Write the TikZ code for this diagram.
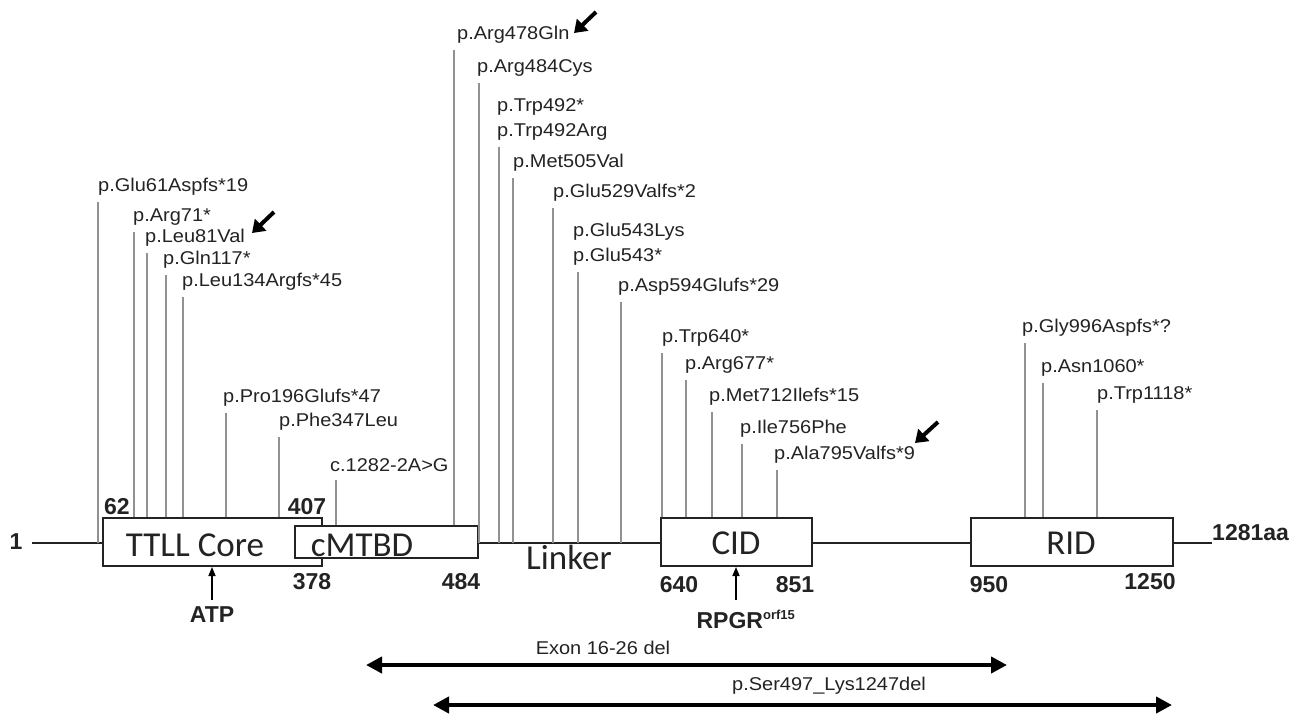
\documentclass[tikz,border=0pt]{standalone}
\usepackage{fontspec}
\setmainfont{Liberation Sans}
\newfontfamily\boxfont{Carlito}
\newfontfamily\labfont[FakeStretch=1.08]{Liberation Sans}
\usetikzlibrary{arrows.meta}
\definecolor{mutgray}{RGB}{145,145,145}
\definecolor{ink}{RGB}{35,35,35}
\newcommand\mutlab[6]{%
  \node[lab] (#1) at (#2,#3) {#6};
  \coordinate (#1t) at (#4,#3+15);
  \draw[mut] (#1t) -- (#1t |- #5);
}
\begin{document}
\begin{tikzpicture}[x=1pt,y=-1pt,
  dom/.style={draw=ink,line width=2pt,fill=white,inner sep=0pt},
  domtext/.style={font=\boxfont\fontsize{35}{38}\selectfont,text=ink,inner sep=0pt},
  lab/.style={font=\labfont\fontsize{18.5}{20}\selectfont,text=ink,anchor=west,inner sep=0pt},
  num/.style={font=\bfseries\fontsize{23}{25}\selectfont,text=ink,inner sep=0pt},
  mut/.style={draw=mutgray,line width=1.6pt},
  backbone/.style={draw=ink,line width=2pt},
  pointer/.style={draw=black,line width=4pt,-{Triangle[length=12pt,width=16pt]}},
  site/.style={draw=black,line width=1.5pt,-{Triangle[length=9pt,width=7pt]}},
  span/.style={draw=black,line width=4pt,{Triangle[length=16pt,width=16pt]}-{Triangle[length=16pt,width=16pt]}},
  ]
\useasboundingbox[fill=white] (0,0) rectangle (1299,713);

% backbone
\coordinate (bbL) at (32,543);
\coordinate (bbR) at (1212,543);
\draw[backbone] (bbL) -- (bbR);

% domains
\node[dom,minimum width=219pt,minimum height=48pt] (tt) at (212.5,542) {};
\node[dom,minimum width=183pt,minimum height=32pt] (cm) at (386.5,542) {};
\node[dom,minimum width=151pt,minimum height=48pt] (cid) at (736.5,542) {};
\node[dom,minimum width=202pt,minimum height=48pt] (rid) at (1072,542) {};
\node[domtext] (ttT) at (195,545) {TTLL Core};
\node[domtext] (cmT) at (362,545) {cMTBD};
\node[domtext] (cidT) at (736,543) {CID};
\node[domtext] (ridT) at (1071,543) {RID};
\node[domtext] (linkT) at (569,557) {Linker};

% residue numbers
\node[num] (n1) at (16,542) {1};
\node[num] (n62) at (117,507) {62};
\node[num] (n407) at (307,507) {407};
\node[num] (n378) at (312,582) {378};
\node[num] (n484) at (461,582) {484};
\node[num] (n640) at (679,585) {640};
\node[num] (n851) at (795,585) {851};
\node[num] (n950) at (989,585) {950};
\node[num] (n1250) at (1150,582) {1250};
\node[num,anchor=west] (n1281) at (1212,533) {1281aa};

% mutations
\mutlab{m1}{98}{187}{98}{bbL}{p.Glu61Aspfs*19}
\mutlab{m2}{133}{217}{134}{tt.north}{p.Arg71*}
\mutlab{m3}{145}{238}{147}{tt.north}{p.Leu81Val}
\mutlab{m4}{163}{260}{166}{tt.north}{p.Gln117*}
\mutlab{m5}{182}{282}{183}{tt.north}{p.Leu134Argfs*45}
\mutlab{m6}{223}{398}{226}{tt.north}{p.Pro196Glufs*47}
\mutlab{m7}{279}{422}{279}{tt.north}{p.Phe347Leu}
\mutlab{m8}{330}{465}{336}{cm.north}{c.1282-2A>G}
\mutlab{m9}{457}{35}{454}{cm.north}{p.Arg478Gln}
\mutlab{m10}{477}{68}{479}{bbL}{p.Arg484Cys}
\node[lab] (m11a) at (497,107) {p.Trp492*};
\mutlab{m11}{497}{132}{499}{bbL}{p.Trp492Arg}
\mutlab{m12}{513}{163}{513}{bbL}{p.Met505Val}
\mutlab{m13}{553}{193}{553}{bbL}{p.Glu529Valfs*2}
\node[lab] (m14a) at (573,232) {p.Glu543Lys};
\mutlab{m14}{573}{257}{578}{bbL}{p.Glu543*}
\mutlab{m15}{618}{287}{621}{bbL}{p.Asp594Glufs*29}
\mutlab{m16}{662}{338}{662}{cid.north}{p.Trp640*}
\mutlab{m17}{685}{365}{686}{cid.north}{p.Arg677*}
\mutlab{m18}{709}{397}{712}{cid.north}{p.Met712Ilefs*15}
\mutlab{m19}{740}{429}{742}{cid.north}{p.Ile756Phe}
\mutlab{m20}{774}{455}{777}{cid.north}{p.Ala795Valfs*9}
\mutlab{m21}{1022}{328}{1025}{rid.north}{p.Gly996Aspfs*?}
\mutlab{m22}{1041}{368}{1043}{rid.north}{p.Asn1060*}
\mutlab{m23}{1097}{395}{1097}{rid.north}{p.Trp1118*}

% pointer arrows
\coordinate (p1s) at (274,212); \coordinate (p1e) at (252,233);
\coordinate (p2s) at (596,12);  \coordinate (p2e) at (574,33);
\coordinate (p3s) at (938,422); \coordinate (p3e) at (915,443);
\draw[pointer] (p1s) -- (p1e);
\draw[pointer] (p2s) -- (p2e);
\draw[pointer] (p3s) -- (p3e);

% binding sites
\node[num] (atp) at (212,615) {ATP};
\draw[site] (atp.north |- 0,600) -- (atp.north |- tt.south);
\node[num] (rpgr) at (746,619) {RPGR\textsuperscript{\fontsize{13}{14}\selectfont orf15}};
\coordinate (rpgrA) at (736,600);
\draw[site] (rpgrA) -- (rpgrA |- cid.south);

% deletions
\node[lab,anchor=center] (ex) at (603,648) {Exon 16-26 del};
\coordinate (exL) at (366,665); \coordinate (exR) at (1007,665);
\draw[span] (exL) -- (exR);
\node[lab,anchor=west] (ser) at (732,686) {p.Ser497\_Lys1247del};
\coordinate (serL) at (433,705); \coordinate (serR) at (1172,705);
\draw[span] (serL) -- (serR);
\end{tikzpicture}
\end{document}
